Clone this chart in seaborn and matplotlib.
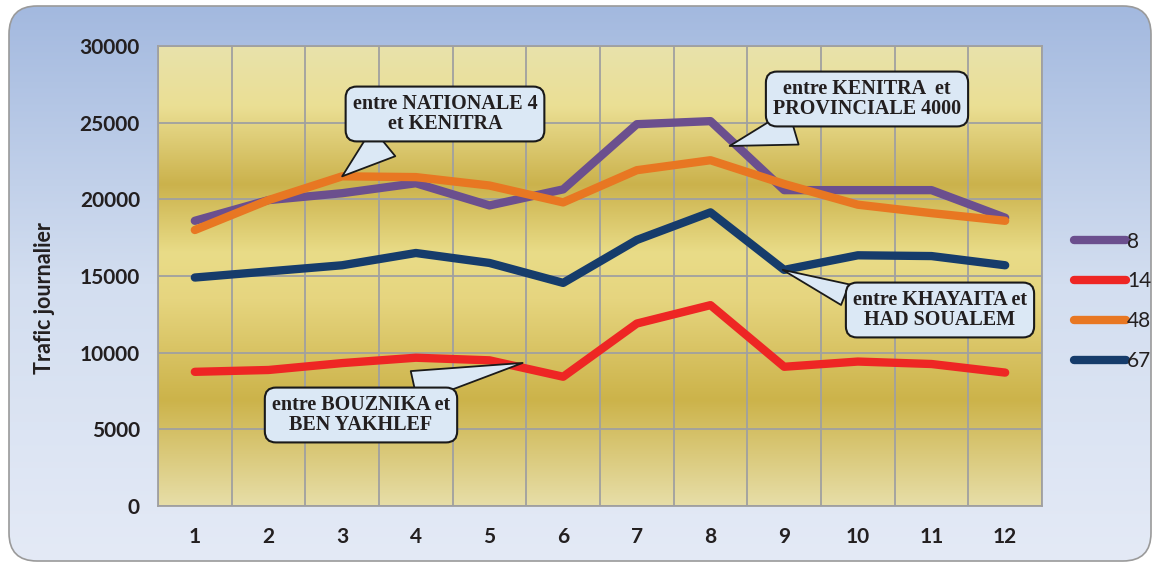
import numpy as np
import pandas as pd
import seaborn as sns
import matplotlib.pyplot as plt
import matplotlib.ticker as ticker
from matplotlib.colors import LinearSegmentedColormap
from matplotlib.patches import FancyBboxPatch

# data
months = list(range(1, 13))
route_8 = [18600, 19950, 20400, 21050, 19600, 20650, 24900, 25100, 20600, 20600, 20600, 18800]
route_14 = [8750, 8870, 9320, 9670, 9500, 8430, 11900, 13100, 9080, 9420, 9260, 8700]
route_48 = [18000, 19950, 21500, 21450, 20900, 19800, 21900, 22550, 21000, 19650, 19100, 18600]
route_67 = [14900, 15300, 15700, 16500, 15850, 14550, 17350, 19150, 15400, 16350, 16300, 15700]
series_names = ['8', '14', '48', '67']
colors = ['#6b4f8e', '#ee2624', '#e87722', '#163c6b']

df = pd.DataFrame({
    'mois': months * 4,
    'trafic': route_8 + route_14 + route_48 + route_67,
    'route': sum([[n] * 12 for n in series_names], []),
})

sns.set_style("white")
plt.rcParams['font.family'] = ['Lato', 'DejaVu Sans']

fig = plt.figure(figsize=(11.57, 5.66), dpi=100, facecolor='white')

# background panel: rounded box with blue gradient
bg = fig.add_axes([0, 0, 1, 1], zorder=-10)
bg.set_xlim(0, 1157)
bg.set_ylim(0, 566)
bg.axis('off')
panel = FancyBboxPatch((9, 5), 1142, 555, boxstyle="round,pad=0,rounding_size=28",
                       fc='none', ec='#9a9a9a', lw=1.2, transform=bg.transData)
blue = LinearSegmentedColormap.from_list('b', ['#e4eaf6', '#d3def0', '#a3b9df'])
grad = np.linspace(0, 1, 256).reshape(-1, 1)
im = bg.imshow(grad, cmap=blue, aspect='auto', extent=(9, 1151, 5, 560), origin='lower')
im.set_clip_path(panel)
bg.add_patch(panel)

ax = fig.add_axes([158 / 1157, 60 / 566, 884 / 1157, 460 / 566])

# golden plot area gradient (row 0 = top)
gold = LinearSegmentedColormap.from_list('g', [
    (0.0, '#e8e2ab'), (0.13, '#ebdf94'), (0.30, '#cbb24c'), (0.45, '#e9dc88'),
    (0.55, '#e6d57f'), (0.77, '#ccb34a'), (1.0, '#e7dea8')])
ax.imshow(grad, cmap=gold, aspect='auto', extent=(0, 1, 0, 1), origin='upper',
          transform=ax.transAxes, zorder=0)

sns.lineplot(data=df, x='mois', y='trafic', hue='route', palette=colors,
             hue_order=series_names, lw=6, ax=ax, zorder=3,
             solid_capstyle='round', solid_joinstyle='round')

ax.set_xlim(0.5, 12.5)
ax.set_ylim(0, 30000)
ax.xaxis.set_major_locator(ticker.FixedLocator(months))
ax.xaxis.set_minor_locator(ticker.MultipleLocator(1, offset=0.5))
ax.yaxis.set_major_locator(ticker.MultipleLocator(5000))
ax.grid(False)
ax.grid(True, which='minor', axis='x', color='#a0a0a0', lw=1.3, zorder=1)
ax.grid(True, which='major', axis='y', color='#a0a0a0', lw=1.3, zorder=1)
ax.set_axisbelow(True)
ax.tick_params(axis='x', which='major', length=0, pad=15, labelsize=15)
ax.tick_params(axis='x', which='minor', length=7, color='#a0a0a0', width=1.3)
ax.tick_params(axis='y', length=7, color='#a0a0a0', width=1.3, pad=6, labelsize=15)
for lab in ax.get_xticklabels() + ax.get_yticklabels():
    lab.set_fontweight('bold')
    lab.set_color('#231f20')
for s in ax.spines.values():
    s.set_color('#a0a0a0')
    s.set_linewidth(1.3)
ax.set_xlabel('')
ax.set_ylabel('Trafic journalier', fontsize=15.5, fontweight='bold', color='#231f20')
ax.yaxis.set_label_coords(-0.117, 0.452)

leg = ax.legend(loc='center left', bbox_to_anchor=(1.015, 0.445), frameon=False,
                handlelength=2.5, handletextpad=0.05, labelspacing=0.95, fontsize=15)
for h in leg.get_lines():
    h.set_linewidth(6)
    h.set_solid_capstyle('round')
for t in leg.get_texts():
    t.set_color('#231f20')

# callouts
callouts = [
    ('entre NATIONALE 4\net KENITRA', (3, 21500), (445, 452), (0.22, 0.0), 1.8),
    ('entre KENITRA  et\nPROVINCIALE 4000', (8.26, 23480), (867, 467), (0.25, 0.0), 1.8),
    ('entre BOUZNIKA et\nBEN YAKHLEF', (5.45, 9330), (361, 151), (0.6, 1.0), 1.6),
    ('entre KHAYAITA et\nHAD SOUALEM', (8.98, 15400), (940, 256), (0.0, 0.8), 1.1),
]
for txt, tip, pos, rel, tw in callouts:
    ax.annotate(txt, xy=tip, xycoords='data', xytext=pos, textcoords='figure pixels',
                ha='center', va='center', fontsize=14.5, fontweight='bold',
                family=['Liberation Serif'], color='#231f20', zorder=6,
                linespacing=1.05,
                bbox=dict(boxstyle='round,pad=0.35,rounding_size=0.55', fc='#dbe8f5',
                          ec='#1a1a1a', lw=1.5),
                arrowprops=dict(arrowstyle='wedge,tail_width=%.1f,shrink_factor=0.5' % tw,
                                fc='#dbe8f5', ec='#1a1a1a', lw=1.3, relpos=rel,
                                shrinkA=0, shrinkB=0))

plt.savefig('out.png', dpi=100, facecolor='white')
